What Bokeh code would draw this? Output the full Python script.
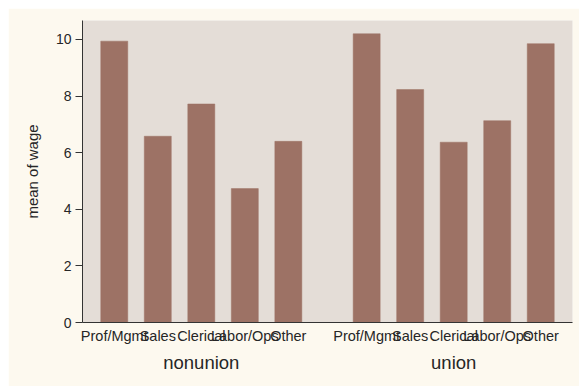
from bokeh.plotting import figure
from bokeh.models import FactorRange, Range1d, ColumnDataSource, FixedTicker
from bokeh.embed import file_html
from bokeh.resources import INLINE

groups = ["nonunion", "union"]
occupations = ["Prof/Mgmt", "Sales", "Clerical", "Labor/Ops", "Other"]
nonunion_wage = [9.94, 6.58, 7.72, 4.73, 6.40]
union_wage = [10.20, 8.23, 6.37, 7.13, 9.85]
y_ticks = [0, 2, 4, 6, 8, 10]

factors = [(g, o) for g in groups for o in occupations]
wages = nonunion_wage + union_wage
src = ColumnDataSource(dict(x=factors, wage=wages))

FONT = "Liberation Sans"
TXT = "#262626"

p = figure(width=571, height=378,
           x_range=FactorRange(*factors, group_padding=0.8, range_padding=0.23,
                               range_padding_units="absolute"),
           y_range=Range1d(0, 10.67),
           output_backend="svg", toolbar_location=None,
           min_border_left=74, min_border_right=7, min_border_top=12,
           min_border_bottom=64)
p.margin = (8, 0, 0, 8)

p.background_fill_color = "#E4DDD7"
p.border_fill_color = "#FDF9EF"
p.outline_line_color = None
p.xgrid.grid_line_color = None
p.ygrid.grid_line_color = None

p.vbar(x="x", top="wage", width=0.62, source=src,
       fill_color="#9D7265", line_color="#9D7265", line_width=0.5)

p.yaxis.ticker = FixedTicker(ticks=y_ticks)
p.yaxis.axis_label = "mean of wage"
p.yaxis.axis_label_text_font = FONT
p.yaxis.axis_label_text_font_size = "15px"
p.yaxis.axis_label_text_font_style = "normal"
p.yaxis.axis_label_text_color = TXT
p.yaxis.axis_label_standoff = 12
p.yaxis.major_label_text_font = FONT
p.yaxis.major_label_text_font_size = "14px"
p.yaxis.major_label_text_color = TXT
p.yaxis.major_tick_out = 7
p.yaxis.major_tick_in = 0
p.yaxis.minor_tick_line_color = None
p.yaxis.major_label_standoff = 4
p.yaxis.axis_line_color = "#333333"
p.yaxis.major_tick_line_color = "#333333"

p.xaxis.major_tick_line_color = None
p.xaxis.major_tick_out = 0
p.xaxis.major_tick_in = 0
p.xaxis.minor_tick_line_color = None
p.xaxis.axis_line_color = "#333333"
p.xaxis.major_label_text_font = FONT
p.xaxis.major_label_text_font_size = "14.5px"
p.xaxis.major_label_text_color = TXT
p.xaxis.major_label_standoff = 5
p.xaxis.group_text_font = FONT
p.xaxis.group_text_font_size = "18.5px"
p.xaxis.group_text_font_style = "normal"
p.xaxis.group_text_color = TXT
p.xaxis.separator_line_color = None

open("out.html", "w").write(file_html(p, INLINE))
